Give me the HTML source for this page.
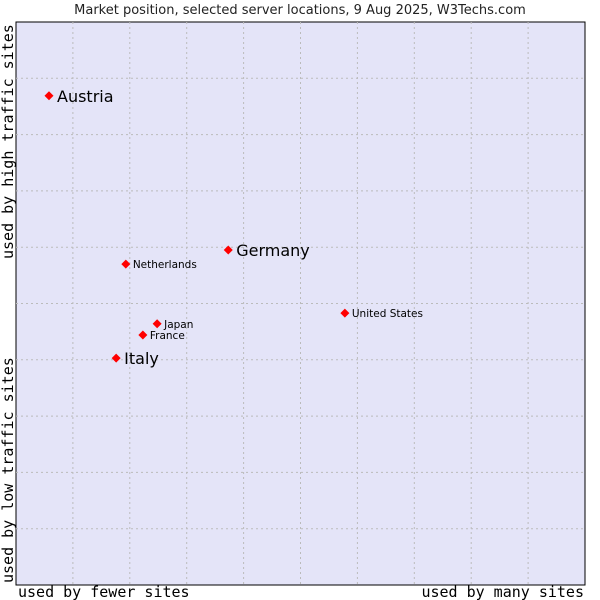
<!DOCTYPE html>
<html><head><meta charset="utf-8"><style>
body{margin:0;background:#fff;width:600px;height:600px;overflow:hidden}
svg{display:block}
</style></head><body>
<svg id="chart" width="600" height="600" xmlns="http://www.w3.org/2000/svg">
<text x="300" y="14" text-anchor="middle" font-family="DejaVu Sans, sans-serif" font-size="13" fill="#222">Market position, selected server locations, 9 Aug 2025, W3Techs.com</text>
<rect x="16" y="22" width="569" height="563" fill="#e4e4f8" stroke="#000" stroke-width="1"/>
<g id="grid"></g>
<g id="points"></g>
<text x="18" y="597" font-family="DejaVu Sans Mono, monospace" font-size="15" fill="#000">used by fewer sites</text>
<text x="584" y="597" text-anchor="end" font-family="DejaVu Sans Mono, monospace" font-size="15" fill="#000">used by many sites</text>
<text transform="translate(13,583) rotate(-90)" font-family="DejaVu Sans Mono, monospace" font-size="15" fill="#000">used by low traffic sites</text>
<text transform="translate(13,259) rotate(-90)" font-family="DejaVu Sans Mono, monospace" font-size="15" fill="#000">used by high traffic sites</text>
</svg>
<script>
const countries = ["Austria","Germany","Netherlands","United States","Japan","France","Italy"];
const xValues = [5.8,37.3,19.3,57.8,24.8,22.3,17.6];
const yValues = [86.9,59.5,57.0,48.3,46.4,44.4,40.3];
const isLarge = [true,true,false,false,false,false,true];
const L=16,T=22,W=569,H=563;
const sx=v=>L+v/100*W, sy=v=>T+H-v/100*H;
const NS="http://www.w3.org/2000/svg";
const grid=document.getElementById('grid');
for(let i=1;i<10;i++){
  const v=document.createElementNS(NS,'line');
  
  
  v.setAttribute('x1',sx(i*10));v.setAttribute('x2',sx(i*10));v.setAttribute('y1',T);v.setAttribute('y2',T+H);
  v.setAttribute('stroke','#bbb');v.setAttribute('stroke-dasharray','2,3');grid.appendChild(v);
  const h=document.createElementNS(NS,'line');
  
  
  h.setAttribute('y1',sy(i*10));h.setAttribute('y2',sy(i*10));h.setAttribute('x1',L);h.setAttribute('x2',L+W);
  h.setAttribute('stroke','#bbb');h.setAttribute('stroke-dasharray','2,3');grid.appendChild(h);
}
const pts=document.getElementById('points');
countries.forEach((c,i)=>{
  const x=sx(xValues[i]),y=sy(yValues[i]);
  const d=document.createElementNS(NS,'path');
  
  
  d.setAttribute('d',`M${x-4.5},${y}L${x},${y-4.5}L${x+4.5},${y}L${x},${y+4.5}Z`);
  d.setAttribute('fill','#f00');pts.appendChild(d);
  const t=document.createElementNS(NS,'text');
  
  
  t.setAttribute('x',x+(isLarge[i]?8:7));
  t.setAttribute('y',y+(isLarge[i]?6:4));
  t.setAttribute('font-family','DejaVu Sans, sans-serif');
  t.setAttribute('font-size',isLarge[i]?'16':'10.5');
  t.setAttribute('fill','#000');
  t.textContent=c;pts.appendChild(t);
});
</script>
</body></html>
